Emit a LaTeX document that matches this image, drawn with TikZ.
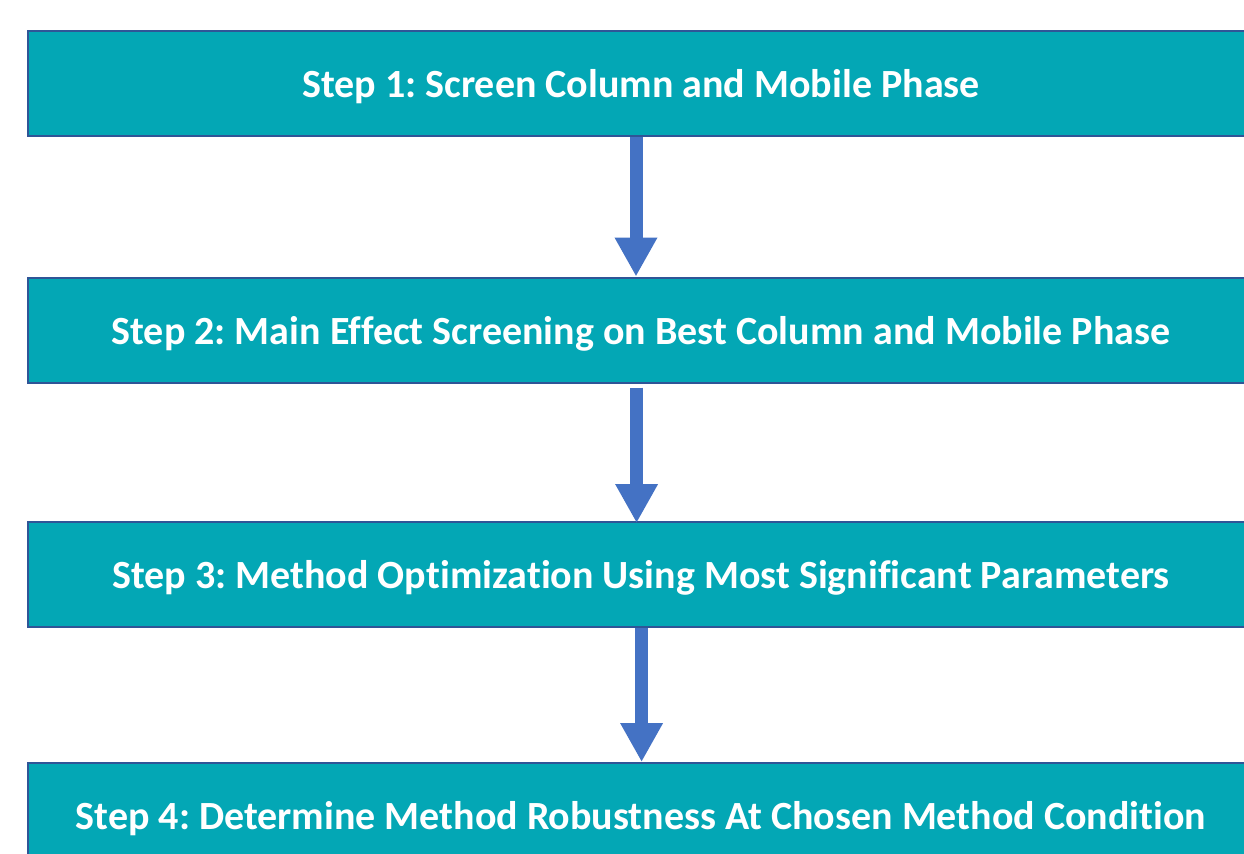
\documentclass[tikz,border=0pt]{standalone}
\usepackage{fontspec}
\setmainfont[Ligatures=NoCommon]{Carlito}
\usepackage{xcolor}
\usepackage{tikz}
\usetikzlibrary{arrows.meta}
\frenchspacing

\definecolor{stepfill}{HTML}{03A7B5}
\definecolor{stepedge}{HTML}{2F5597}
\definecolor{flowblue}{HTML}{4472C4}

\begin{document}
\begin{tikzpicture}[
			x=0.5pt, y=-0.5pt,
			stepbox/.style={draw=stepedge, line width=1pt, fill=stepfill, rectangle, minimum width=613pt, minimum height=52.5pt, inner sep=0pt, text=white, text depth=0pt, font=\bfseries\fontsize{20}{24}\selectfont},
			arrow/.style={draw=flowblue, line width=6.5pt, -{Triangle[width=20pt, length=19.5pt]}}
			]
			\useasboundingbox[fill=white] (0,0) rectangle (1244,853);
			
			% Etapas do método
			\node[stepbox] (s1) at (641, 83.5)  {Step 1: Screen Column and Mobile Phase};
			\node[stepbox] (s2) at (641, 330)   {Step 2: Main Effect Screening on Best Column and Mobile Phase};
			\node[stepbox] (s3) at (641, 574.5) {Step 3: Method Optimization Using Most Significant Parameters};
			\node[stepbox] (s4) at (641, 815.5) {Step 4: Determine Method Robustness At Chosen Method Condition};
			
			% Setas
			\draw[arrow] ([xshift=-2.5pt]s1.south) -- ([xshift=-2.5pt]s2.north);
			\draw[arrow] ([xshift=-2.2pt, yshift=-2pt]s2.south) -- ([xshift=-2.2pt, yshift=-1pt]s3.north);
			\draw[arrow] ([xshift=0.3pt]s3.south) -- ([xshift=0.3pt]s4.north);
			
		\end{tikzpicture}
\end{document}
